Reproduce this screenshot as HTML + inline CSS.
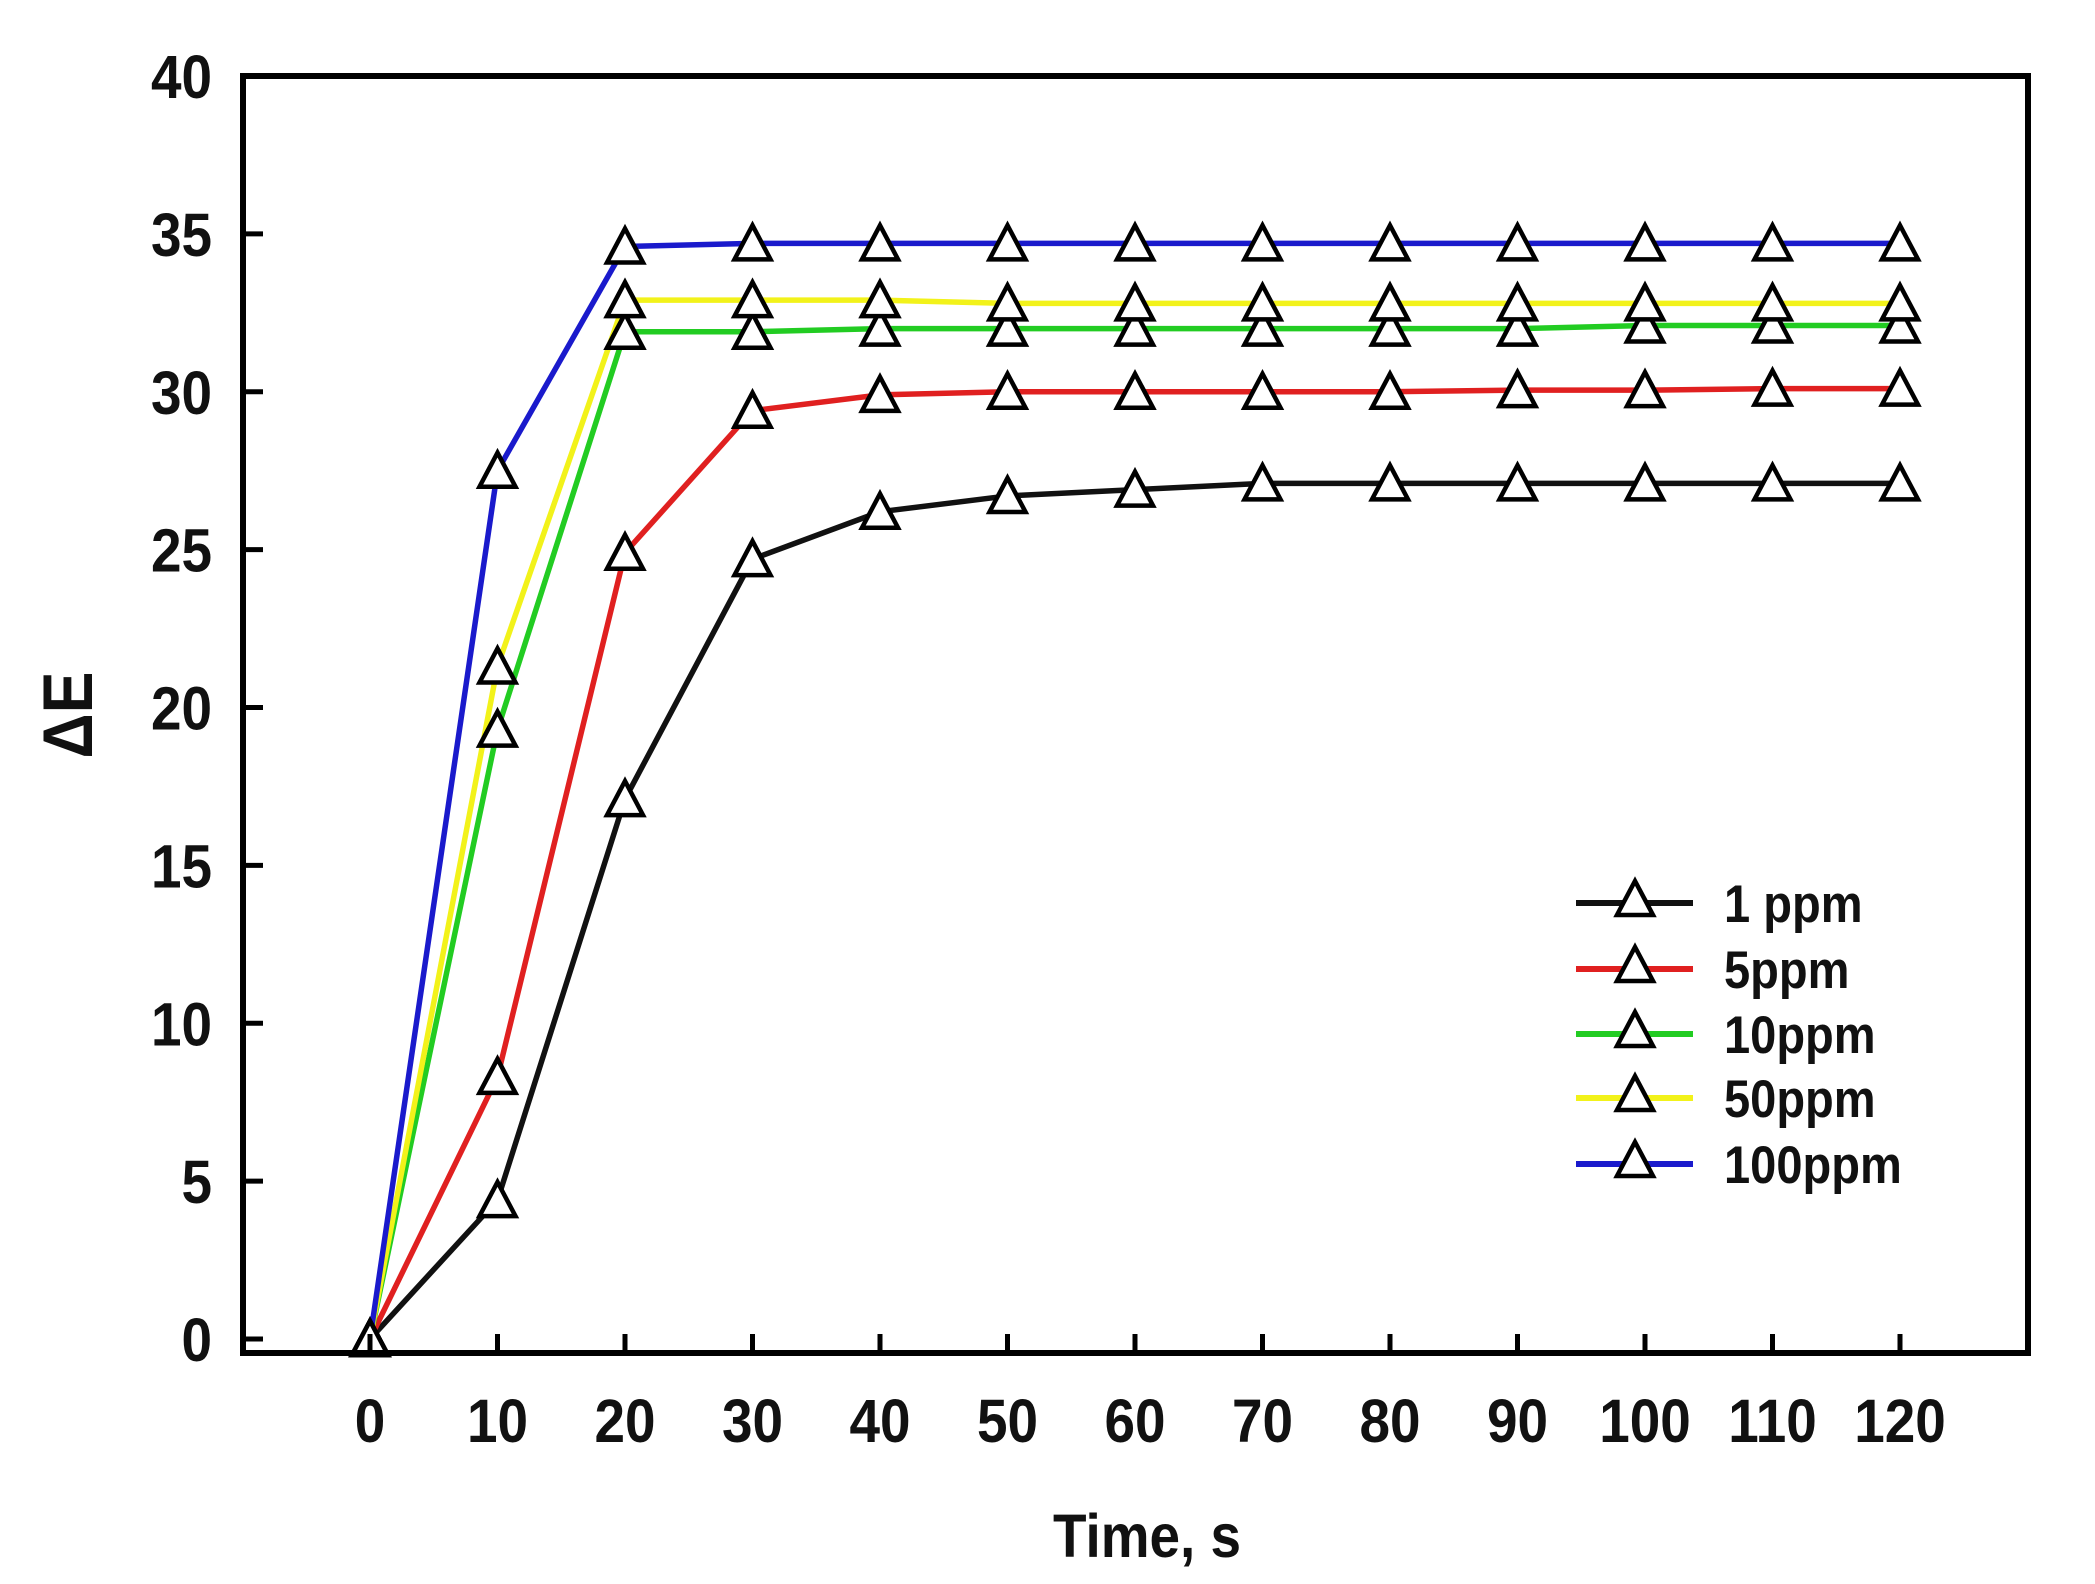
<!DOCTYPE html>
<html><head><meta charset="utf-8"><style>
html,body{margin:0;padding:0;background:#fff;}
svg{display:block;}
text{font-family:"Liberation Sans",Arial,sans-serif;font-weight:bold;fill:#111;}
</style></head><body>
<svg id="s" width="2095" height="1584" viewBox="0 0 2095 1584" xmlns="http://www.w3.org/2000/svg">
<rect width="2095" height="1584" fill="#fff"/>
<g id="g"></g>
</svg>
<script>
const NS="http://www.w3.org/2000/svg";
const g=document.getElementById('g');
function el(t,a,txt){const e=document.createElementNS(NS,t);for(const k in a)e.setAttribute(k,a[k]);if(txt!==undefined)e.textContent=txt;g.appendChild(e);return e;}
function txt(x,y,s,size,anchor){
  return el('text',{x:0,y:0,'text-anchor':anchor||'start','font-size':size,transform:`translate(${x} ${y}) scale(0.98 1.1)`},s);}
const X=t=>370+t*12.75, Y=v=>1339-v*31.575;
const T=[0,10,20,30,40,50,60,70,80,90,100,110,120];
const series=[
 ["#111",[0,4.4,17.1,24.7,26.2,26.7,26.9,27.1,27.1,27.1,27.1,27.1,27.1]],
 ["#e02020",[0,8.3,24.9,29.4,29.9,30,30,30,30,30.05,30.05,30.1,30.1]],
 ["#22cc22",[0,19.3,31.9,31.9,32,32,32,32,32,32,32.1,32.1,32.1]],
 ["#f2f21a",[0,21.3,32.9,32.9,32.9,32.8,32.8,32.8,32.8,32.8,32.8,32.8,32.8]],
 ["#1a1acc",[0,27.5,34.6,34.7,34.7,34.7,34.7,34.7,34.7,34.7,34.7,34.7,34.7]]
];
function tri(cx,cy){const w=18,h=16;el('polygon',{points:`${cx-w},${cy+h} ${cx+w},${cy+h} ${cx},${cy-h-2}`,fill:'#fff',stroke:'#000','stroke-width':4.5,'stroke-linejoin':'miter'});}
series.forEach(([c,d])=>{el('polyline',{points:d.map((v,i)=>X(T[i])+','+Y(v)).join(' '),fill:'none',stroke:c,'stroke-width':5.5,'stroke-linejoin':'round'});});
series.forEach(([c,d])=>{d.forEach((v,i)=>tri(X(T[i]),Y(v)));});
el('rect',{x:243,y:76,width:1785,height:1277,fill:'none',stroke:'#000','stroke-width':6});
for(let v=0;v<=35;v+=5){el('line',{x1:243,x2:263,y1:Y(v),y2:Y(v),stroke:'#000','stroke-width':5});
 txt(212,Y(v)+22,String(v),56,'end');}
txt(212,98,'40',56,'end');
T.forEach(t=>{el('line',{x1:X(t),x2:X(t),y1:1353,y2:1334,stroke:'#000','stroke-width':5});
 txt(X(t),1442,String(t),56,'middle');});
txt(1147,1557,'Time, s',56,'middle');
el('text',{x:0,y:0,'text-anchor':'middle','font-size':64,transform:'translate(92 715) rotate(-90) scale(0.98 1.1)'},'ΔE');
const labs=['1 ppm','5ppm','10ppm','50ppm','100ppm'],ly=[903,969,1034,1098,1164];
series.forEach(([c],i)=>{el('line',{x1:1576,x2:1693,y1:ly[i],y2:ly[i],stroke:c,'stroke-width':6});tri(1635,ly[i]-4);
 txt(1724,ly[i]+19,labs[i],48,'start');});
</script>
</body></html>
